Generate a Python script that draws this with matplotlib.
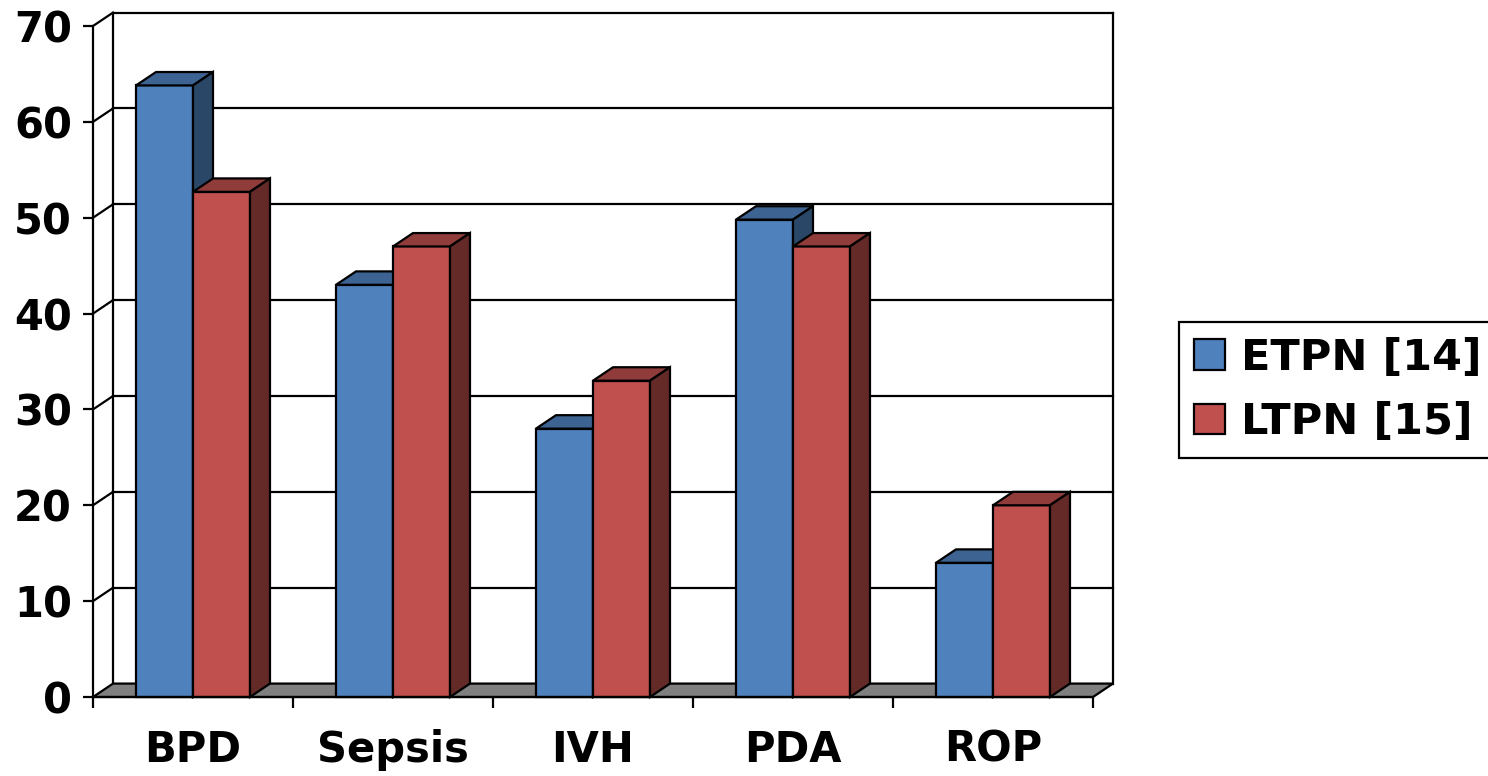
import matplotlib
matplotlib.use("Agg")
from matplotlib import pyplot as plt
from matplotlib.patches import Polygon, Patch

categories = ["BPD", "Sepsis", "IVH", "PDA", "ROP"]
etpn = [63.8, 43, 28, 49.8, 14]
ltpn = [52.7, 47, 33, 47, 20]
series_names = ["ETPN [14]", "LTPN [15]"]

# front / top / side shades
blue = ("#4F81BD", "#3D6392", "#2B4768")
red = ("#C0504D", "#903C3A", "#642A28")

plt.rcParams['font.family'] = ['DejaVu Sans']
plt.rcParams['font.weight'] = 'bold'
plt.rcParams['font.size'] = 30

fig = plt.figure(figsize=(14.88, 7.76), dpi=100)
W, H = 1488, 776
ax = fig.add_axes([93 / W, (H - 697) / H, 1000 / W, 671 / H])
ax.set_xlim(-0.5, len(categories) - 0.5)
ax.set_ylim(0, 70)

dx = 0.1   # depth offset in category units
dy = 1.4   # depth offset in value units
lw = 1.6

# back wall grid + left wall diagonals
x0, x1 = -0.5, len(categories) - 0.5
for v in range(10, 80, 10):
    ax.plot([x0 + dx, x1 + dx], [v + dy, v + dy], color="black", lw=lw, clip_on=False, zorder=1)
    ax.plot([x0, x0 + dx], [v, v + dy], color="black", lw=lw, clip_on=False, zorder=1)
ax.plot([x0 + dx, x0 + dx], [dy, 70 + dy], color="black", lw=lw, clip_on=False, zorder=1)
ax.plot([x1 + dx, x1 + dx], [dy, 70 + dy], color="black", lw=lw, clip_on=False, zorder=1)

# floor
ax.add_patch(Polygon([(x0, 0), (x1, 0), (x1 + dx, dy), (x0 + dx, dy)], closed=True,
                     facecolor="#808080", edgecolor="black", lw=lw, clip_on=False, zorder=2))

w = 0.285
z = 3
for i, cat in enumerate(categories):
    for vals, cols, off in ((etpn, blue, -w), (ltpn, red, 0)):
        v = vals[i]
        left = i + off
        right = left + w
        ax.bar(left, v, width=w, align='edge', color=cols[0], edgecolor="black",
               linewidth=lw, zorder=z, clip_on=False)
        ax.add_patch(Polygon([(left, v), (right, v), (right + dx, v + dy), (left + dx, v + dy)],
                             closed=True, facecolor=cols[1], edgecolor="black", lw=lw,
                             clip_on=False, zorder=z))
        ax.add_patch(Polygon([(right, 0), (right, v), (right + dx, v + dy), (right + dx, dy)],
                             closed=True, facecolor=cols[2], edgecolor="black", lw=lw,
                             clip_on=False, zorder=z))
        z += 1

for s in ["top", "right"]:
    ax.spines[s].set_visible(False)
for s in ["left", "bottom"]:
    ax.spines[s].set_linewidth(lw)
    ax.spines[s].set_zorder(20)

ax.set_yticks(range(0, 80, 10))
ax.tick_params(axis='y', length=7.2, width=lw, pad=8, direction='out')
ax.set_xticks(range(len(categories)))
ax.set_xticklabels(categories)
ax.set_xticks([x0 + k for k in range(len(categories) + 1)], minor=True)
ax.tick_params(axis='x', which='major', length=0, pad=23)
ax.tick_params(axis='x', which='minor', length=8, width=lw, direction='out')
ax.set_facecolor("none")

handles = [Patch(facecolor=blue[0], edgecolor="black", lw=lw),
           Patch(facecolor=red[0], edgecolor="black", lw=lw)]
leg = fig.legend(handles, series_names, loc='upper left', bbox_to_anchor=(1179 / W, (H - 322) / H),
                 frameon=True, fancybox=False, framealpha=1, edgecolor="black", fontsize=31,
                 handlelength=0.72, handleheight=0.72, handletextpad=0.37,
                 borderpad=0.34, labelspacing=0.52, borderaxespad=0)
leg.get_frame().set_linewidth(lw)

fig.savefig("out.png", dpi=100)
